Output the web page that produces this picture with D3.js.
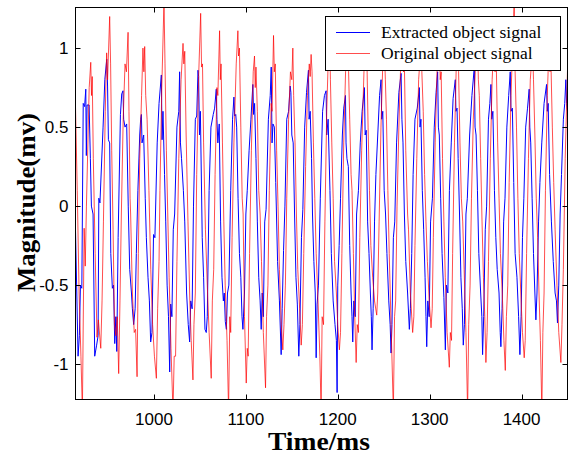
<!DOCTYPE html>
<html>
<head>
<meta charset="utf-8">
<script src="https://cdn.jsdelivr.net/npm/d3@7/dist/d3.min.js"></script>
<style>
  html, body { margin: 0; padding: 0; background: #fff; }
  svg { display: block; }
</style>
</head>
<body>
<div id="chart"></div>
<script>
// ---------------- data (time in ms, magnitude in mV) ----------------
const xTicks = [1000, 1100, 1200, 1300, 1400];
const yTicks = [-1, -0.5, 0, 0.5, 1];
const yTickLabels = ["-1", "-0.5", "0", "0.5", "1"];
const seriesNames = ["Extracted object signal", "Original object signal"];
const xLabel = "Time/ms";
const yLabel = "Magnitude(mv)";

const extractedSignal = [
  [914.6,-0.15],
  [917.4,-0.95],[918.8,-0.82],[920.0,-0.50],[921.5,-0.52],[923.0,0.65],[924.5,0.63],[925.8,0.74],[926.4,0.32],[927.2,0.64],[929.4,0.64],[930.8,0.30],[931.9,0.0],[933.7,-0.05],
  [935.5,-0.95],[937.6,-0.88],[939.2,-0.82],[940.0,0.05],[941.2,0.02],[944.6,0.50],[946.5,0.80],[948.6,0.93],[949.5,0.76],[950.4,0.42],[951.8,0.40],[953.0,-0.30],[954.7,-0.52],[956.0,-0.50],
  [957.3,-0.87],[958.5,-0.70],[959.5,-0.92],[961.0,-0.20],[963.5,0.58],[964.9,0.71],[966.3,0.73],[967.0,0.55],[968.5,0.50],[970.3,0.52],[972.0,0.0],[973.6,-0.40],[975.5,-0.55],[976.5,-0.65],
  [977.9,-0.75],[979.5,-0.65],[980.8,-0.30],[982.5,0.10],[984.5,0.45],[985.5,0.55],[986.3,0.58],[987.0,0.40],[988.8,0.45],[990.5,0.05],[991.7,-0.20],[993.5,-0.45],[995.0,-0.60],
  [996.4,-0.86],[997.8,-0.80],[999.5,-0.18],[1001.0,-0.20],[1003.5,0.40],[1005.5,0.65],[1008.0,0.83],[1008.8,0.42],[1009.8,0.60],[1011.5,0.20],[1012.8,-0.10],[1014.3,-0.50],[1015.8,-0.70],
  [1017.1,-1.05],[1018.2,-0.62],[1019.5,-0.70],[1021.0,-0.15],[1022.5,-0.05],[1025.0,0.50],[1027.0,0.60],[1027.9,0.85],[1028.8,0.40],[1030.0,0.30],[1032.0,0.10],[1033.5,-0.10],[1035.5,-0.55],[1037.3,-0.75],
  [1038.8,-0.86],[1040.0,-0.60],[1041.5,-0.65],[1043.0,0.0],[1045.0,0.55],[1046.5,0.57],[1047.9,0.86],[1048.6,0.82],[1049.5,0.45],[1050.5,0.60],[1052.5,-0.20],[1054.0,-0.45],[1055.5,-0.78],
  [1056.9,-0.80],[1058.0,-0.70],[1060.0,0.10],[1062.0,0.50],[1064.5,0.58],[1066.0,0.62],[1067.8,0.74],[1068.5,0.55],[1069.5,0.40],[1071.0,0.52],[1072.5,-0.10],[1074.0,-0.45],[1075.5,-0.60],[1076.5,-0.55],
  [1077.6,-0.73],[1078.8,-0.78],[1080.0,-0.55],[1081.5,-0.50],[1083.5,0.10],[1085.5,0.55],[1087.0,0.69],[1087.8,0.57],[1089.0,0.58],[1090.0,0.50],[1091.5,0.05],[1093.0,-0.30],[1094.5,-0.45],[1095.8,-0.70],
  [1096.8,-0.78],[1098.5,-0.55],[1100.0,-0.05],[1101.5,0.10],[1103.5,0.35],[1105.5,0.55],[1107.6,0.77],[1108.4,0.58],[1109.5,0.65],[1111.0,0.30],[1112.5,-0.10],[1114.0,-0.45],[1115.5,-0.60],
  [1116.7,-0.78],[1117.8,-0.55],[1119.0,-0.70],[1120.5,-0.10],[1122.0,-0.02],[1124.5,0.55],[1126.5,0.70],[1127.6,0.88],[1128.5,0.40],[1129.5,0.52],[1131.0,0.50],[1132.5,0.15],[1134.5,-0.35],[1136.5,-0.60],
  [1138.4,-0.94],[1139.5,-0.65],[1141.0,-0.28],[1142.5,0.0],[1144.5,0.55],[1146.5,0.60],[1148.2,0.76],[1149.0,0.72],[1150.0,0.45],[1151.5,0.40],[1153.0,-0.05],[1154.5,-0.45],[1156.0,-0.62],
  [1157.6,-0.95],[1158.8,-0.75],[1160.5,-0.20],[1162.0,-0.02],[1164.0,0.50],[1166.0,0.72],[1168.1,0.86],[1168.8,0.55],[1170.0,0.60],[1171.5,0.30],[1172.5,-0.05],[1174.0,-0.35],[1175.5,-0.55],
  [1176.5,-0.96],[1177.5,-0.62],[1179.0,-0.50],[1181.0,0.05],[1183.5,0.60],[1185.5,0.70],[1187.3,0.73],[1188.0,0.45],[1189.5,0.55],[1191.5,0.10],[1193.0,-0.30],[1195.0,-0.60],[1197.0,-0.75],[1198.5,-0.85],
  [1199.3,-1.18],[1200.0,-0.50],[1201.5,-0.25],[1203.0,0.05],[1205.0,0.45],[1206.5,0.62],[1208.4,0.70],[1209.0,0.40],[1210.0,0.30],[1211.5,0.25],[1213.0,-0.25],[1214.5,-0.55],[1215.5,-0.70],
  [1216.3,-0.86],[1217.5,-0.60],[1219.0,-0.70],[1220.5,-0.05],[1222.5,0.10],[1224.5,0.40],[1226.5,0.60],[1229.0,0.75],[1229.8,0.45],[1231.0,0.48],[1232.5,-0.10],[1234.0,-0.30],[1235.5,-0.55],[1236.5,-0.70],
  [1237.3,-0.91],[1238.5,-0.65],[1240.0,-0.10],[1241.5,0.20],[1243.5,0.45],[1245.5,0.70],[1247.1,0.80],[1247.8,0.55],[1249.0,0.60],[1250.5,0.10],[1252.0,-0.05],[1253.5,-0.30],[1255.5,-0.60],[1257.0,-0.75],
  [1258.0,-0.93],[1259.0,-0.75],[1260.5,-0.20],[1262.0,-0.10],[1264.0,0.40],[1266.5,0.72],[1268.9,0.84],[1269.8,0.55],[1271.0,0.40],[1272.5,-0.05],[1274.0,-0.35],[1276.0,-0.55],
  [1277.9,-0.78],[1279.0,-0.65],[1280.5,-0.30],[1282.0,0.20],[1284.0,0.55],[1286.5,0.62],[1288.8,0.75],[1289.5,0.50],[1290.5,0.55],[1292.0,0.10],[1293.5,-0.15],[1295.0,-0.45],[1296.0,-0.70],
  [1296.8,-0.89],[1298.0,-0.60],[1299.5,-0.70],[1301.0,-0.10],[1303.0,0.05],[1305.0,0.50],[1307.0,0.72],[1308.7,0.85],[1309.5,0.50],[1310.5,0.45],[1312.0,0.05],[1313.5,-0.30],[1315.5,-0.58],
  [1317.1,-0.91],[1318.2,-0.50],[1319.8,-0.55],[1321.5,0.10],[1323.5,0.40],[1325.5,0.68],[1327.9,0.80],[1328.6,0.60],[1329.8,0.62],[1331.0,0.30],[1332.5,-0.05],[1334.0,-0.45],[1335.5,-0.65],
  [1336.6,-0.88],[1337.8,-0.75],[1339.5,-0.05],[1341.0,0.05],[1343.5,0.45],[1346.0,0.70],[1348.6,0.88],[1349.4,0.50],[1350.5,0.45],[1352.0,0.10],[1353.5,-0.30],[1355.5,-0.55],[1356.8,-0.70],
  [1357.6,-0.94],[1358.8,-0.70],[1360.5,-0.15],[1362.0,0.0],[1364.0,0.55],[1365.5,0.65],[1366.7,0.77],[1367.5,0.55],[1368.8,0.60],[1370.5,0.10],[1372.0,-0.20],[1373.5,-0.40],[1375.5,-0.55],[1376.8,-0.80],
  [1377.5,-0.89],[1378.8,-0.65],[1380.5,-0.10],[1382.0,0.05],[1384.0,0.50],[1386.0,0.70],[1387.7,0.85],[1388.5,0.60],[1390.0,0.62],[1391.5,0.15],[1393.0,-0.30],[1395.0,-0.45],[1396.8,-0.70],
  [1398.2,-0.94],[1399.5,-0.70],[1401.0,-0.20],[1402.5,0.05],[1404.5,0.50],[1406.5,0.62],[1408.3,0.74],[1409.0,0.50],[1410.0,0.40],[1411.5,0.05],[1413.0,-0.30],[1414.5,-0.55],
  [1415.6,-0.72],[1416.8,-0.55],[1418.5,-0.10],[1420.0,0.15],[1422.0,0.40],[1424.5,0.65],[1427.2,0.77],[1428.0,0.60],[1429.0,0.65],[1430.5,0.20],[1432.5,-0.10],[1434.5,-0.35],[1436.5,-0.55],[1438.0,-0.60],
  [1439.1,-0.74],[1440.5,-0.50],[1442.0,-0.05],[1443.5,0.20],[1445.5,0.55],[1447.0,0.65],[1448.2,0.80],[1449.0,0.65],[1450.0,0.60]
];

const originalSignal = [
  [914.6,0.63],[916.5,0.10],[918.5,-0.55],[920.5,-0.95],
  [922.1,-1.30],[924.0,-0.14],[925.2,-0.38],[926.5,0.0],[929.5,0.75],[931.2,0.91],[932.0,0.70],[932.8,0.82],[934.0,0.30],[936.0,-0.30],[938.0,-0.83],[939.5,-0.72],
  [942.1,-0.90],[943.5,-0.60],[945.0,-0.10],[947.0,0.60],[948.5,0.97],[949.5,0.80],[951.8,1.20],[952.8,0.90],[954.0,0.35],[955.5,-0.15],[957.0,-0.75],[958.5,-0.82],[960.0,-0.70],
  [961.6,-1.06],[963.0,-0.60],[964.5,-0.05],[966.5,0.55],[968.5,0.90],[970.0,0.85],[971.8,1.10],[972.8,0.60],[974.0,0.05],[974.6,-0.05],[976.5,-0.55],[978.5,-0.80],[980.0,-0.78],
  [981.6,-1.08],[983.0,-0.30],[984.5,0.30],[986.5,0.70],[988.0,1.00],[989.0,0.85],[989.9,1.01],[991.0,0.70],[992.5,0.55],[994.5,0.10],[996.5,-0.40],[998.5,-0.75],[1000.5,-0.95],
  [1002.6,-1.09],[1004.0,-0.65],[1005.5,-0.35],[1006.5,0.10],[1008.5,0.75],[1010.9,1.30],[1012.0,0.90],[1013.5,0.35],[1015.0,-0.05],[1016.5,-0.45],[1018.5,-0.90],
  [1020.7,-1.30],[1022.0,-0.95],[1023.5,-0.95],[1025.0,-0.35],[1027.0,0.30],[1029.5,0.80],[1031.6,1.03],[1032.5,0.90],[1033.5,0.98],[1035.0,0.45],[1037.0,-0.10],[1039.0,-0.60],[1040.5,-0.85],
  [1042.4,-1.10],[1043.5,-0.75],[1045.0,-0.55],[1046.5,0.20],[1048.5,0.80],[1050.8,1.22],[1051.8,0.88],[1052.8,0.90],[1054.0,0.40],[1056.0,-0.15],[1058.0,-0.50],[1060.0,-0.80],
  [1062.3,-1.09],[1063.5,-0.60],[1065.0,-0.40],[1066.5,0.20],[1068.5,0.75],[1069.5,0.70],[1071.4,1.11],[1072.2,0.80],[1073.0,0.90],[1074.5,0.40],[1076.0,-0.10],[1077.5,-0.50],[1079.5,-0.85],
  [1081.2,-1.30],[1082.5,-0.70],[1083.5,-0.80],[1085.0,-0.20],[1087.0,0.40],[1089.5,0.90],[1091.3,1.11],[1092.0,0.95],[1093.0,1.00],[1094.5,0.50],[1096.0,0.05],[1097.0,-0.05],[1098.5,-0.70],
  [1100.4,-1.12],[1101.5,-0.90],[1102.5,-0.95],[1104.0,-0.30],[1106.0,0.35],[1108.0,0.85],[1109.4,0.95],[1110.2,0.75],[1111.0,0.88],[1112.5,0.60],[1114.0,0.10],[1115.5,-0.05],[1117.0,-0.35],[1119.0,-0.80],
  [1121.4,-1.15],[1122.5,-0.70],[1124.0,-0.50],[1125.5,0.10],[1127.5,0.65],[1128.5,0.60],[1130.1,1.08],[1131.0,0.85],[1132.0,0.90],[1133.5,0.35],[1135.0,0.0],[1136.5,-0.40],[1138.5,-0.75],
  [1140.2,-0.91],[1141.5,-0.75],[1143.0,-0.50],[1144.5,0.05],[1146.5,0.55],[1148.5,0.85],[1150.0,0.80],[1151.1,1.00],[1152.0,0.70],[1153.5,0.40],[1155.0,-0.05],[1156.5,-0.40],[1158.5,-0.65],
  [1160.2,-0.88],[1161.5,-0.75],[1163.0,-0.30],[1165.0,0.25],[1167.0,0.70],[1169.0,0.90],[1170.0,0.82],[1171.0,0.96],[1172.0,0.85],[1173.5,0.40],[1175.0,0.05],[1176.5,-0.30],[1178.5,-0.60],[1180.5,-0.95],
  [1181.9,-1.30],[1183.0,-0.70],[1184.5,-0.75],[1186.0,-0.10],[1188.0,0.60],[1189.5,0.90],[1191.0,1.10],[1192.0,0.80],[1193.5,0.40],[1195.0,0.05],[1196.5,-0.35],[1198.5,-0.55],[1200.0,-0.75],
  [1201.8,-0.91],[1203.0,-0.80],[1204.5,-0.30],[1206.5,0.40],[1208.5,0.85],[1210.9,1.05],[1211.8,0.85],[1213.0,0.55],[1214.5,0.20],[1215.5,0.10],[1217.0,-0.30],[1218.5,-0.70],
  [1220.0,-0.99],[1221.2,-0.75],[1222.5,-0.80],[1224.0,-0.20],[1226.0,0.35],[1228.5,0.85],[1230.8,1.12],[1231.8,0.90],[1233.0,0.50],[1234.5,0.10],[1236.0,-0.25],[1238.0,-0.45],[1240.0,-0.60],
  [1242.4,-0.69],[1243.5,-0.55],[1245.0,-0.10],[1247.0,0.50],[1249.0,0.90],[1250.7,1.00],[1251.8,0.80],[1253.0,0.55],[1254.5,0.10],[1256.0,-0.30],[1258.0,-0.75],
  [1260.5,-1.30],[1261.8,-0.70],[1263.0,-0.60],[1264.5,0.0],[1266.5,0.50],[1268.5,0.90],[1270.7,1.08],[1271.5,0.85],[1272.5,0.90],[1274.0,0.35],[1276.0,-0.05],[1277.0,-0.15],[1279.0,-0.55],
  [1281.5,-0.80],[1282.8,-0.70],[1284.0,-0.25],[1286.0,0.30],[1288.0,0.80],[1290.6,1.02],[1291.5,0.85],[1293.0,0.60],[1294.5,0.20],[1296.0,-0.10],[1297.5,-0.35],[1299.5,-0.60],
  [1301.5,-0.77],[1302.8,-0.65],[1304.0,-0.20],[1306.0,0.40],[1308.0,0.85],[1310.5,1.05],[1311.5,0.80],[1312.5,0.85],[1314.0,0.30],[1315.5,-0.10],[1317.0,-0.45],[1319.0,-0.80],
  [1321.4,-1.02],[1322.5,-0.80],[1323.8,-0.85],[1325.0,-0.30],[1327.0,0.40],[1329.0,0.90],[1330.4,1.10],[1331.5,0.85],[1333.0,0.40],[1334.5,0.05],[1336.0,-0.10],[1337.5,-0.40],[1339.5,-0.80],
  [1341.3,-1.30],[1342.5,-0.75],[1344.0,-0.50],[1345.5,0.05],[1347.5,0.55],[1350.0,0.90],[1352.2,1.00],[1353.0,0.80],[1354.0,0.70],[1355.5,0.30],[1357.0,-0.10],[1358.5,-0.45],[1360.0,-0.70],
  [1361.2,-0.99],[1362.5,-0.80],[1364.0,-0.35],[1366.0,0.30],[1368.0,0.80],[1370.3,1.08],[1371.2,0.85],[1372.5,0.90],[1374.0,0.40],[1375.5,0.05],[1377.0,-0.30],[1379.0,-0.55],[1380.8,-0.85],
  [1382.3,-1.04],[1383.5,-0.70],[1385.0,-0.50],[1386.5,0.15],[1388.5,0.70],[1390.5,1.05],[1392.0,1.30],[1393.0,0.85],[1394.5,0.50],[1396.0,0.05],[1397.5,-0.30],[1399.5,-0.60],[1401.0,-0.80],
  [1402.9,-0.96],[1404.0,-0.85],[1405.5,-0.30],[1407.5,0.30],[1409.5,0.80],[1412.0,1.00],[1413.0,0.80],[1414.5,0.45],[1416.0,0.05],[1417.5,-0.20],[1419.0,-0.55],[1420.5,-0.85],
  [1422.1,-1.30],[1423.2,-0.80],[1424.5,-0.55],[1426.0,0.10],[1428.0,0.70],[1430.1,1.05],[1431.0,0.85],[1432.0,0.90],[1433.5,0.50],[1435.0,0.15],[1436.5,-0.15],[1438.5,-0.50],[1440.5,-0.80],
  [1442.8,-0.99],[1444.0,-0.75],[1445.5,-0.40],[1447.5,0.30],[1450.0,0.86]
];

// ---------------- layout ----------------
const W = 569, H = 457;
const plot = { left: 75.5, right: 567.5, top: 7.5, bottom: 399.5 };

const x = d3.scaleLinear().domain([914.6, 1450]).range([plot.left, plot.right]);
const y = d3.scaleLinear().domain([-1.224, 1.257]).range([plot.bottom, plot.top]);

const svg = d3.select("#chart").append("svg")
  .attr("width", W).attr("height", H)
  .attr("viewBox", `0 0 ${W} ${H}`);

svg.append("rect").attr("width", W).attr("height", H).attr("fill", "#fff");

svg.append("defs").append("clipPath").attr("id", "clip")
  .append("rect")
  .attr("x", plot.left).attr("y", plot.top)
  .attr("width", plot.right - plot.left).attr("height", plot.bottom - plot.top);

const line = d3.line().x(d => x(d[0])).y(d => y(d[1]));

const g = svg.append("g").attr("clip-path", "url(#clip)");
g.append("path").datum(extractedSignal)
  .attr("fill", "none").attr("stroke", "#0000ff").attr("stroke-width", 1)
  .attr("stroke-linejoin", "miter").attr("d", line);
g.append("path").datum(originalSignal)
  .attr("fill", "none").attr("stroke", "#ff0000").attr("stroke-width", 0.7)
  .attr("stroke-linejoin", "miter").attr("d", line);

// ---------------- axes (MATLAB style box with inward ticks) ----------------
const tickLen = 5;
const axisG = svg.append("g").attr("stroke", "#000").attr("stroke-width", 1);
xTicks.forEach(t => {
  const px = Math.round(x(t)) + 0.5;
  axisG.append("line").attr("x1", px).attr("x2", px).attr("y1", plot.bottom).attr("y2", plot.bottom - tickLen);
  axisG.append("line").attr("x1", px).attr("x2", px).attr("y1", plot.top).attr("y2", plot.top + tickLen);
});
yTicks.forEach(t => {
  const py = Math.round(y(t)) + 0.5;
  axisG.append("line").attr("x1", plot.left).attr("x2", plot.left + tickLen).attr("y1", py).attr("y2", py);
  axisG.append("line").attr("x1", plot.right).attr("x2", plot.right - tickLen).attr("y1", py).attr("y2", py);
});
svg.append("rect")
  .attr("x", plot.left).attr("y", plot.top)
  .attr("width", plot.right - plot.left).attr("height", plot.bottom - plot.top)
  .attr("fill", "none").attr("stroke", "#000").attr("stroke-width", 1);

const tickFont = "'Liberation Sans', Arial, Helvetica, sans-serif";
svg.append("g").selectAll("text").data(xTicks).join("text")
  .attr("x", d => x(d)).attr("y", 425)
  .attr("text-anchor", "middle")
  .attr("font-family", tickFont).attr("font-size", 17)
  .text(d => d);
svg.append("g").selectAll("text").data(yTicks).join("text")
  .attr("x", 68.5).attr("y", d => y(d)).attr("dy", "0.36em")
  .attr("text-anchor", "end")
  .attr("font-family", tickFont).attr("font-size", 17)
  .text((d, i) => yTickLabels[i]);

const serif = "'Liberation Serif', 'Times New Roman', Times, serif";
svg.append("text")
  .attr("x", 319).attr("y", 450)
  .attr("text-anchor", "middle")
  .attr("font-family", serif).attr("font-weight", "bold").attr("font-size", 25)
  .attr("textLength", 102).attr("lengthAdjust", "spacingAndGlyphs")
  .text(xLabel);
svg.append("text")
  .attr("transform", "translate(35,202.5) rotate(-90)")
  .attr("text-anchor", "middle")
  .attr("font-family", serif).attr("font-weight", "bold").attr("font-size", 25)
  .attr("textLength", 179).attr("lengthAdjust", "spacingAndGlyphs")
  .text(yLabel);

// ---------------- legend ----------------
const legend = svg.append("g");
legend.append("rect")
  .attr("x", 325.5).attr("y", 16.5).attr("width", 235).attr("height", 54)
  .attr("fill", "#fff").attr("stroke", "#000").attr("stroke-width", 1);
const legendColors = ["#0000ff", "#ff0000"];
const legendY = [32.5, 53.5];
seriesNames.forEach((name, i) => {
  legend.append("line")
    .attr("x1", 336).attr("x2", 370).attr("y1", legendY[i]).attr("y2", legendY[i])
    .attr("stroke", legendColors[i]).attr("stroke-width", i === 0 ? 1 : 0.7);
  legend.append("text")
    .attr("x", 381).attr("y", legendY[i] + 5)
    .attr("font-family", serif).attr("font-size", 17.5)
    .text(name);
});
</script>
</body>
</html>
